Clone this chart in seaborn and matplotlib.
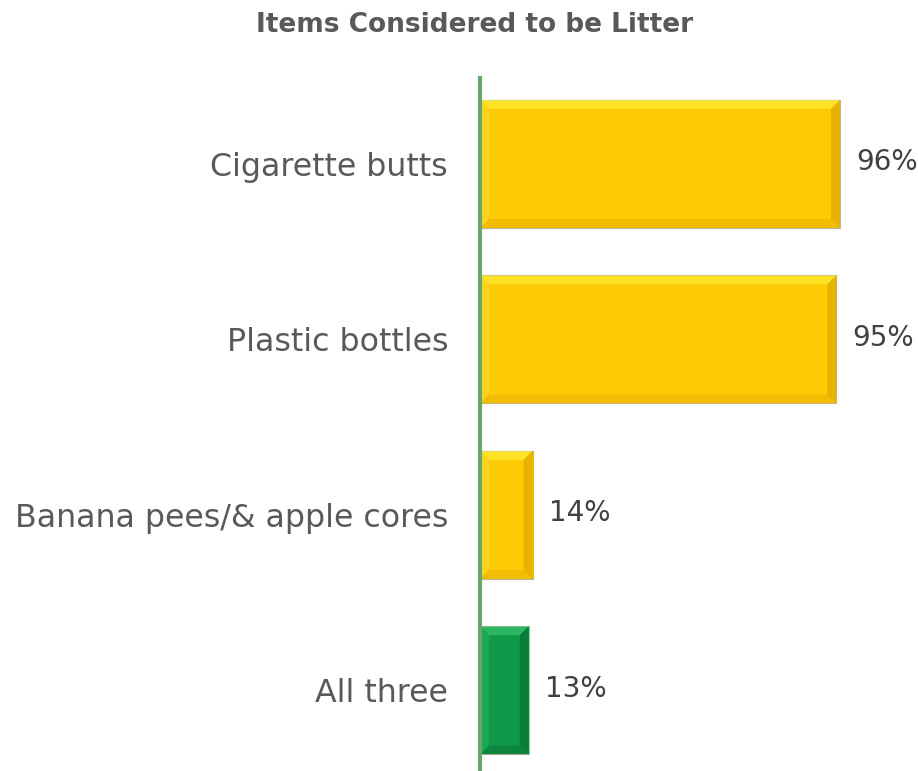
import matplotlib
matplotlib.use("Agg")
import matplotlib.pyplot as plt
from matplotlib.patches import Polygon
import seaborn as sns
import pandas as pd

categories = ["Cigarette butts", "Plastic bottles", "Banana pees/& apple cores", "All three"]
values = [96, 95, 14, 13]
value_labels = ["96%", "95%", "14%", "13%"]

# face, light top edge, light left edge, dark right edge, dark bottom edge
yellow = ("#FDCB06", "#FFF23A", "#FFD92E", "#D9A400", "#E8B400")
green = ("#0E9A48", "#3FCB72", "#22B45C", "#086A32", "#0B7A3A")
styles = [yellow, yellow, yellow, green]

sns.set_theme(style="white")
plt.rcParams["font.family"] = ["DejaVu Sans"]

df = pd.DataFrame({"item": categories, "pct": values})

W, H = 918, 771
fig = plt.figure(figsize=(W / 100, H / 100), dpi=100)
ax = fig.add_axes([480 / W, 0, (855 - 480) / W, (771 - 78) / H])

sns.barplot(data=df, y="item", x="pct", hue="item",
            palette=[s[0] for s in styles], orient="h",
            width=0.73, legend=False, ax=ax, saturation=1)

ax.set_xlim(0, 100)
ax.set_ylim(3.46, -0.49)

# bevelled bar edges
px_x = (100 / (855 - 480))
px_y = (3.46 + 0.49) / (771 - 78)
bev = 9
for patch, st in zip(ax.patches, styles):
    x0, y0 = patch.get_x(), patch.get_y()
    w, h = patch.get_width(), patch.get_height()
    x1, y1 = x0 + w, y0 + h
    dx, dy = bev * px_x, bev * px_y
    patch.set_edgecolor("#BDB59A")
    patch.set_linewidth(0.8)
    # y axis inverted: y0 is top of bar on screen
    top = [(x0, y0), (x1, y0), (x1 - dx, y0 + dy), (x0 + dx, y0 + dy)]
    bot = [(x0, y1), (x1, y1), (x1 - dx, y1 - dy), (x0 + dx, y1 - dy)]
    left = [(x0, y0), (x0 + dx, y0 + dy), (x0 + dx, y1 - dy), (x0, y1)]
    right = [(x1, y0), (x1 - dx, y0 + dy), (x1 - dx, y1 - dy), (x1, y1)]
    for pts, c in ((top, st[1]), (bot, st[4]), (left, st[2]), (right, st[3])):
        ax.add_patch(Polygon(pts, closed=True, facecolor=c, edgecolor="none",
                             alpha=0.6, zorder=patch.get_zorder() + 0.1))

for i, (v, lab) in enumerate(zip(values, value_labels)):
    ax.text(v + 16 * px_x, i - 0.01, lab, va="center", ha="left",
            fontsize=20, color="#404040")

ax.set_xlabel("")
ax.set_ylabel("")
ax.set_xticks([])
ax.tick_params(axis="y", length=0, pad=23, labelsize=22.8, labelcolor="#595959")
for lbl in ax.get_yticklabels():
    lbl.set_va("center_baseline")
for s in ("top", "right", "bottom"):
    ax.spines[s].set_visible(False)
ax.spines["left"].set_color("#6AA56A")
ax.spines["left"].set_linewidth(3)
ax.spines["left"].set_zorder(5)

fig.text(475 / W, 1 - 25 / H, "Items Considered to be Litter", ha="center",
         va="center", fontsize=19, fontweight="bold", color="#595959")

fig.savefig("out.png", dpi=100)
